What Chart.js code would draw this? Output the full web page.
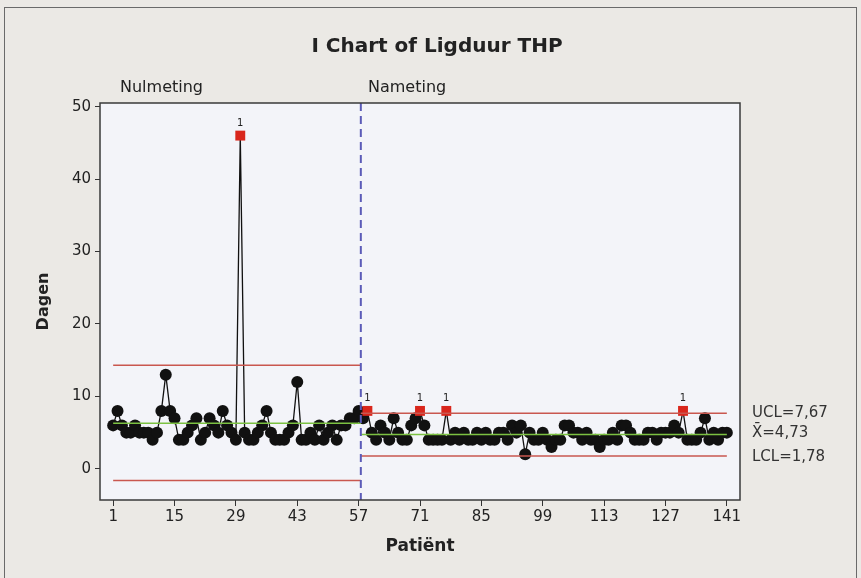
<!DOCTYPE html>
<html>
<head>
<meta charset="utf-8">
<script src="https://cdn.jsdelivr.net/npm/chart.js@4.4.1/dist/chart.umd.min.js"></script>
<style>
  html, body { margin: 0; padding: 0; background: #ffffff; }
  #wrap { width: 861px; height: 578px; }
</style>
</head>
<body>
<div id="wrap"><canvas id="iChart" width="861" height="578"></canvas></div>
<script>
// Ligduur (dagen) per patiënt, gelezen uit de grafiek
const nulmeting = [6, 8, 6, 5, 5, 6, 5, 5, 5, 4, 5, 8, 13, 8, 7, 4, 4, 5, 6, 7,
                   4, 5, 7, 6, 5, 8, 6, 5, 4, 46, 5, 4, 4, 5, 6, 8, 5, 4, 4, 4,
                   5, 6, 12, 4, 4, 5, 4, 6, 4, 5, 6, 4, 6, 6, 7, 7, 8];
const nameting = [7, 8, 5, 4, 6, 5, 4, 7, 5, 4, 4, 6, 7, 8, 6, 4, 4, 4, 4, 8,
                  4, 5, 4, 5, 4, 4, 5, 4, 5, 4, 4, 5, 5, 4, 6, 5, 6, 2, 5, 4,
                  4, 5, 4, 3, 4, 4, 6, 6, 5, 5, 4, 5, 4, 4, 3, 4, 4, 5, 4, 6,
                  6, 5, 4, 4, 4, 5, 5, 4, 5, 5, 5, 6, 5, 8, 4, 4, 4, 5, 7, 4,
                  5, 4, 5, 5];
const stageNames = ['Nulmeting', 'Nameting'];
const stageFrom = [1, 57.5];
const stageTo = [57.5, 141];
const ucl = [14.3, 7.67];
const center = [6.3, 4.73];
const lcl = [-1.6, 1.78];
const xTicks = [1, 15, 29, 43, 57, 71, 85, 99, 113, 127, 141];
const yTicks = [0, 10, 20, 30, 40, 50];

const values = nulmeting.concat(nameting);
const points = values.map((v, i) => ({ x: i + 1, y: v }));
const stageOf = i => (i < nulmeting.length ? 0 : 1);
const isOut = values.map((v, i) => v > ucl[stageOf(i)] || v < lcl[stageOf(i)]);

function limitSet(arr, color) {
  return arr.map((v, s) => ({
    data: [{ x: stageFrom[s], y: v }, { x: stageTo[s], y: v }],
    borderColor: color,
    borderWidth: 1.5,
    pointRadius: 0,
    fill: false
  }));
}

const FONT = '"DejaVu Sans", Verdana, sans-serif';

const decor = {
  id: 'decor',
  beforeDraw(chart) {
    const { ctx, chartArea: a } = chart;
    ctx.save();
    ctx.fillStyle = '#ebe9e5';
    ctx.fillRect(0, 0, chart.width, chart.height);
    ctx.strokeStyle = '#6a6a6a';
    ctx.lineWidth = 1;
    ctx.strokeRect(4.5, 7.5, 852, 575);
    ctx.fillStyle = '#f3f4f9';
    ctx.fillRect(a.left, a.top, a.right - a.left, a.bottom - a.top);
    ctx.restore();
  },
  afterDatasetsDraw(chart) {
    const { ctx, chartArea: a, scales: { x, y } } = chart;
    ctx.save();
    // scheiding tussen de fasen
    const xs = x.getPixelForValue(stageTo[0]);
    ctx.strokeStyle = '#5b5bb8';
    ctx.lineWidth = 2;
    ctx.setLineDash([8, 5]);
    ctx.beginPath();
    ctx.moveTo(xs, a.top);
    ctx.lineTo(xs, a.bottom);
    ctx.stroke();
    ctx.setLineDash([]);
    // kader
    ctx.strokeStyle = '#3a3a3a';
    ctx.lineWidth = 1.5;
    ctx.strokeRect(a.left, a.top, a.right - a.left, a.bottom - a.top);
    // "1" boven punten buiten de grenzen
    ctx.fillStyle = '#222';
    ctx.font = '10px ' + FONT;
    ctx.textAlign = 'center';
    ctx.textBaseline = 'bottom';
    points.forEach((p, i) => {
      if (isOut[i]) ctx.fillText('1', x.getPixelForValue(p.x), y.getPixelForValue(p.y) - 7);
    });
    // titel en fase-namen
    ctx.font = 'bold 20px ' + FONT;
    ctx.textBaseline = 'middle';
    ctx.fillText('I Chart of Ligduur THP', 437, 47);
    ctx.font = '16px ' + FONT;
    ctx.textAlign = 'left';
    ctx.fillText(stageNames[0], 120, 88);
    ctx.fillText(stageNames[1], 368, 88);
    // grenswaarden rechts
    ctx.font = '15px ' + FONT;
    ctx.fillStyle = '#333';
    ctx.fillText('UCL=' + ucl[1].toFixed(2).replace('.', ','), 752, 413);
    ctx.fillText('X\u0304=' + center[1].toFixed(2).replace('.', ','), 752, 433);
    ctx.fillText('LCL=' + lcl[1].toFixed(2).replace('.', ','), 752, 457);
    ctx.restore();
  }
};

new Chart(document.getElementById('iChart').getContext('2d'), {
  type: 'line',
  data: {
    datasets: [
      ...limitSet(ucl, '#c9574f'),
      ...limitSet(lcl, '#c9574f'),
      ...limitSet(center, '#7cc142'),
      {
        data: points,
        borderColor: '#111',
        borderWidth: 1.3,
        pointStyle: isOut.map(o => (o ? 'rect' : 'circle')),
        pointRadius: isOut.map(o => (o ? 7 : 6)),
        pointBackgroundColor: isOut.map(o => (o ? '#d9261c' : '#111')),
        pointBorderColor: isOut.map(o => (o ? '#d9261c' : '#111')),
        pointBorderWidth: 0,
        tension: 0,
        fill: false
      }
    ]
  },
  plugins: [decor],
  options: {
    responsive: false,
    animation: false,
    layout: { padding: { left: 30, right: 121, top: 103, bottom: 17 } },
    plugins: { legend: { display: false }, tooltip: { enabled: false } },
    scales: {
      x: {
        type: 'linear',
        min: -2,
        max: 144,
        afterBuildTicks: s => { s.ticks = xTicks.map(v => ({ value: v })); },
        afterFit: s => { s.height = 61; },
        grid: { drawOnChartArea: false, drawTicks: true, tickLength: 6, color: '#333' },
        border: { display: false },
        ticks: { color: '#222', font: { family: FONT, size: 15 }, padding: 2, maxRotation: 0 },
        title: { display: true, text: 'Patiënt', color: '#222', font: { family: FONT, size: 17, weight: 'bold' } }
      },
      y: {
        min: -4.3,
        max: 50.5,
        afterBuildTicks: s => { s.ticks = yTicks.map(v => ({ value: v })); },
        afterFit: s => { s.width = 70; },
        grid: { drawOnChartArea: false, drawTicks: true, tickLength: 5, color: '#333' },
        border: { display: false },
        ticks: { color: '#222', font: { family: FONT, size: 15 }, padding: 4 },
        title: { display: true, text: 'Dagen', color: '#222', font: { family: FONT, size: 16, weight: 'bold' } }
      }
    }
  }
});
</script>
</body>
</html>
